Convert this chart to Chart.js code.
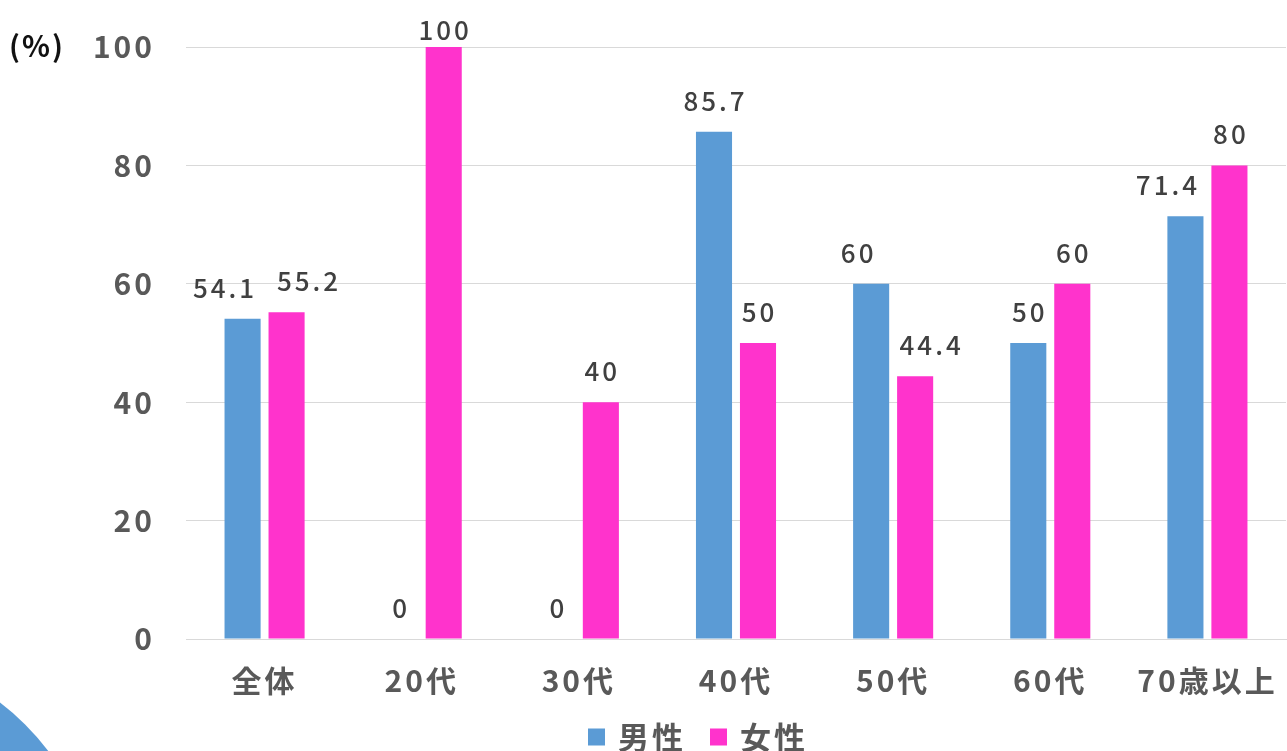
<!DOCTYPE html>
<html><head><meta charset="utf-8">
<script src="https://cdn.jsdelivr.net/npm/chart.js@4"></script>
<style>html,body{margin:0;padding:0;background:#fff;overflow:hidden}canvas{display:block}</style>
</head><body>
<canvas id="c" width="1287" height="751"></canvas>
<script>
const categories = ['全体','20代','30代','40代','50代','60代','70歳以上'];
const maleValues = [54.1, 0, 0, 85.7, 60, 50, 71.4];
const femaleValues = [55.2, 100, 40, 50, 44.4, 60, 80];
const seriesNames = ['男性','女性'];
const yTicks = [0,20,40,60,80,100];
const unitLabel = '(%)';

const FONT = '"Noto Sans CJK JP", "Noto Sans", sans-serif';
const BLUE = '#5b9bd5';
const PINK = '#ff33cc';

const decoPlugin = {
  id: 'deco',
  beforeDraw(chart) {
    const ctx = chart.ctx;
    ctx.save();
    ctx.fillStyle = '#fff';
    ctx.fillRect(0,0,chart.width,chart.height);
    ctx.fillStyle = BLUE;
    ctx.beginPath();
    ctx.arc(-150, 900, 248, 0, Math.PI*2);
    ctx.fill();
    ctx.fillStyle = '#111';
    ctx.font = '700 29px ' + FONT;
    ctx.textAlign = 'left';
    ctx.textBaseline = 'middle';
    try { ctx.letterSpacing = '2px'; } catch(e) {}
    ctx.fillText(unitLabel, 9, 46);
    ctx.restore();
    try { ctx.letterSpacing = '3px'; } catch(e) {}
  }
};

const labelPlugin = {
  id: 'vals',
  afterDatasetsDraw(chart, args, opts) {
    const ctx = chart.ctx;
    const nudge = opts.nudge || [];
    ctx.save();
    ctx.fillStyle = '#404040';
    ctx.font = '500 26px ' + FONT;
    ctx.textAlign = 'center';
    ctx.textBaseline = 'alphabetic';
    try { ctx.letterSpacing = '3px'; } catch(e) {}
    chart.data.datasets.forEach((ds, i) => {
      const meta = chart.getDatasetMeta(i);
      meta.data.forEach((bar, j) => {
        let y = bar.y - 21;
        if (y < 40) y = 40;
        const dx = (nudge[i] && nudge[i][j]) || 0;
        ctx.fillText(String(ds.data[j]), bar.x + 1.5 + dx, y);
      });
    });
    ctx.restore();
  },
  afterDraw(chart) {
    const ctx = chart.ctx;
    ctx.save();
    try { ctx.letterSpacing = '3px'; } catch(e) {}
    ctx.font = '700 31px ' + FONT;
    ctx.textBaseline = 'middle';
    ctx.textAlign = 'left';
    const items = chart.data.datasets.map(d => ({ text: d.label, color: d.backgroundColor }));
    const box = 17, gapBox = 13, gapItem = 24;
    const widths = items.map(it => box + gapBox + ctx.measureText(it.text).width);
    const total = widths.reduce((a,b)=>a+b,0) + gapItem*(items.length-1);
    let x = 698 - total/2;
    const cy = 737;
    items.forEach((it, k) => {
      ctx.fillStyle = it.color;
      ctx.fillRect(x, cy - box/2, box, box);
      ctx.fillStyle = '#595959';
      ctx.fillText(it.text, x + box + gapBox, cy);
      x += widths[k] + gapItem;
    });
    ctx.restore();
  }
};

new Chart(document.getElementById('c'), {
  type: 'bar',
  data: {
    labels: categories,
    datasets: [
      { label: seriesNames[0], data: maleValues, backgroundColor: BLUE },
      { label: seriesNames[1], data: femaleValues, backgroundColor: PINK }
    ]
  },
  options: {
    responsive: false,
    animation: false,
    devicePixelRatio: 1,
    layout: { padding: { left: 0, right: 1, top: 47, bottom: 0 } },
    datasets: { bar: { categoryPercentage: 0.56, barPercentage: 0.82 } },
    scales: {
      x: {
        afterFit(axis) { axis.height = 112; axis.paddingLeft = 0; axis.paddingRight = 0; },
        grid: { display: false, drawTicks: false },
        border: { display: true, color: '#d9d9d9', width: 1 },
        ticks: { color: '#595959', font: { family: FONT, size: 30, weight: '700' }, padding: 24, maxRotation: 0, autoSkip: false }
      },
      y: {
        min: 0, max: 100,
        afterFit(axis) { axis.width = 186; axis.paddingTop = 0; axis.paddingBottom = 0; },
        afterBuildTicks(axis) { axis.ticks = yTicks.map(v => ({ value: v })); },
        grid: { color: '#d9d9d9', lineWidth: 1, drawTicks: false },
        border: { display: false },
        ticks: { color: '#595959', font: { family: FONT, size: 30, weight: '700' }, padding: 31 }
      }
    },
    plugins: {
      legend: { display: false },
      tooltip: { enabled: false },
      vals: { nudge: [[-19, 0, 0, 0, -14, 0, -19], [21, 0, 0, 0, 15, 0, 0]] }
    }
  },
  plugins: [decoPlugin, labelPlugin]
});
</script>
</body></html>
